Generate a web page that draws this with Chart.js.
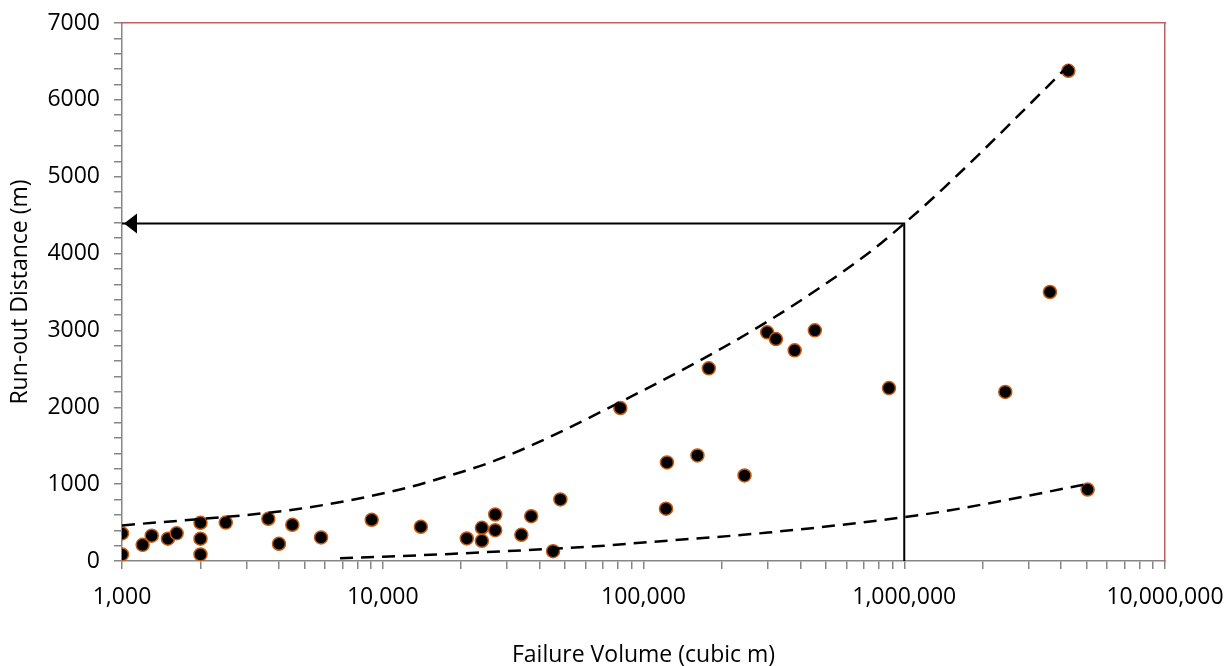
<!DOCTYPE html>
<html>
<head>
<meta charset="utf-8">
<script src="https://cdn.jsdelivr.net/npm/chart.js@4.4.0/dist/chart.umd.min.js"></script>
<style>
  html, body { margin: 0; padding: 0; background: #fff; }
  #wrap { width: 1228px; height: 666px; }
</style>
</head>
<body>
<div id="wrap"><canvas id="myChart" width="1228" height="666"></canvas></div>
<script>
// observed failures
var volume = [1000, 1000, 1200, 1300, 1500, 1620, 2000, 2000, 2000, 2500,
              3640, 4000, 4500, 5800, 9070, 14000, 21000, 24000, 24000, 27000,
              27000, 34000, 37100, 45000, 48000, 81500, 123000, 122000, 161000, 244000,
              178000, 298000, 322000, 380000, 454000, 874000, 4260000, 3620000, 2440000, 5050000];
var runout = [358, 85, 210, 330, 290, 360, 497, 290, 85, 500,
              549, 224, 471, 306, 536, 445, 293, 432, 263, 605,
              401, 341, 583, 128, 801, 1990, 1283, 680, 1374, 1113,
              2507, 2975, 2888, 2741, 3001, 2250, 6378, 3500, 2200, 930];

// upper / lower envelope (dashed)
var upperVol = [1000, 4800, 11650, 15600, 28200, 81500, 297000, 739000, 1000000, 1500000, 4400000];
var upperRun = [462, 680, 930, 1048, 1331, 2068, 3110, 4021, 4390, 4930, 6490];
var lowerVol = [6860, 10000, 18100, 26600, 45000, 68200, 100000, 300000, 1000000, 1500000, 5200000];
var lowerRun = [36, 55, 92, 120, 160, 195, 240, 370, 570, 660, 1010];

// reading line: 1,000,000 m3 -> run-out
var readVol = [1000000, 1000000, 1000];
var readRun = [0, 4390, 4390];

var xTicks = [];
[1000, 10000, 100000, 1000000].forEach(function(d){
	for (var k = 1; k < 10; k++) xTicks.push(d * k);
});
xTicks.push(10000000);

function pts(xs, ys){
	return xs.map(function(v, i){ return {x: v, y: ys[i]}; });
}

Chart.defaults.font.family = "'Open Sans', sans-serif";
Chart.defaults.color = '#000';

var axisGrey = '#868686';
var frameRed = '#c0605e';

// arrow head at the end of the reading line
var arrowHead = {
	id: 'arrowHead',
	afterDatasetsDraw: function(chart){
		var xs = chart.scales.x, ys = chart.scales.y;
		var tipX = xs.getPixelForValue(readVol[2]) + 2;
		var tipY = ys.getPixelForValue(readRun[2]);
		var c = chart.ctx;
		c.save();
		c.fillStyle = '#000';
		c.beginPath();
		c.moveTo(tipX, tipY);
		c.lineTo(tipX + 13, tipY - 10);
		c.lineTo(tipX + 13, tipY + 10);
		c.closePath();
		c.fill();
		c.restore();
	}
};

function noPad(s){
	s.paddingLeft = 0; s.paddingRight = 0; s.paddingTop = 0; s.paddingBottom = 0;
}

var ctx = document.getElementById('myChart');
var myChart = new Chart(ctx, {
	type : 'scatter',
	data : {
		datasets : [ {
			label : 'upper',
			data : pts(upperVol, upperRun),
			showLine : true,
			borderColor : '#000',
			borderWidth : 2.5,
			borderDash : [13, 8],
			pointRadius : 0,
			cubicInterpolationMode : 'monotone'
		}, {
			label : 'lower',
			data : pts(lowerVol, lowerRun),
			showLine : true,
			borderColor : '#000',
			borderWidth : 2.5,
			borderDash : [13, 8],
			pointRadius : 0,
			cubicInterpolationMode : 'monotone'
		}, {
			label : 'reading',
			data : pts(readVol, readRun),
			showLine : true,
			borderColor : '#000',
			borderWidth : 2,
			pointRadius : 0
		}, {
			label : 'failures',
			data : pts(volume, runout),
			backgroundColor : '#000',
			borderColor : '#c55a11',
			borderWidth : 1.5,
			pointRadius : 6.5,
			pointHoverRadius : 6.5
		} ]
	},
	options : {
		responsive : false,
		animation : false,
		plugins : {
			legend : { display : false },
			tooltip : { enabled : false }
		},
		layout : { padding : 0 },
		scales : {
			x : {
				type : 'logarithmic',
				position : 'bottom',
				min : 1000,
				max : 10000000,
				afterFit : function(s){ s.height = 105; noPad(s); },
				afterBuildTicks : function(s){
					s.ticks = xTicks.map(function(v){ return {value : v}; });
				},
				grid : { drawOnChartArea : false, tickLength : 8, color : axisGrey, lineWidth : 1.5 },
				border : { color : axisGrey, width : 1.5 },
				ticks : {
					autoSkip : false,
					maxRotation : 0,
					padding : 15,
					font : { size : 23 },
					callback : function(v){
						var l = Math.log10(v);
						return Math.abs(l - Math.round(l)) < 1e-9 ? Number(v).toLocaleString('en-US') : '';
					}
				},
				title : {
					display : true,
					text : 'Failure Volume (cubic m)',
					font : { size : 23, lineHeight : 0.9 },
					padding : { top : 0, bottom : 0 }
				}
			},
			y : {
				type : 'linear',
				position : 'left',
				min : 0,
				max : 7000,
				afterFit : function(s){ s.width = 122; noPad(s); },
				grid : { drawOnChartArea : false, tickLength : 8, color : axisGrey, lineWidth : 1.5 },
				border : { color : axisGrey, width : 1.5 },
				ticks : {
					stepSize : 200,
					autoSkip : false,
					padding : 14,
					font : { size : 23 },
					callback : function(v){ return v % 1000 === 0 ? v : ''; }
				},
				title : {
					display : true,
					text : 'Run-out Distance (m)',
					font : { size : 23 },
					padding : { top : 7, bottom : 0 }
				}
			},
			xTop : {
				type : 'linear',
				position : 'top',
				afterFit : function(s){ s.height = 23; noPad(s); },
				grid : { display : false },
				ticks : { display : false },
				border : { color : frameRed, width : 1.5 }
			},
			yRight : {
				type : 'linear',
				position : 'right',
				afterFit : function(s){ s.width = 63; noPad(s); },
				grid : { display : false },
				ticks : { display : false },
				border : { color : frameRed, width : 1.5 }
			}
		}
	},
	plugins : [arrowHead]
});
</script>
</body>
</html>
